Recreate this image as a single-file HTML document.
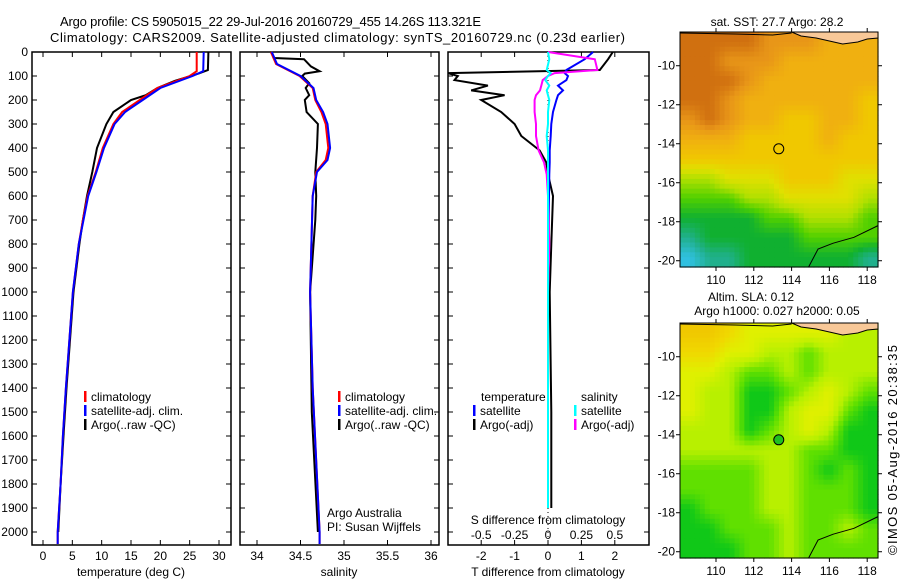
<!DOCTYPE html>
<html><head><meta charset="utf-8"><style>
body{margin:0;background:#fff;}
svg{display:block;font-family:"Liberation Sans",sans-serif;}
</style></head><body>
<svg id="fig" width="900" height="580" xmlns="http://www.w3.org/2000/svg">
<rect width="900" height="580" fill="#fff"/>
<text x="60" y="26" font-size="13" textLength="421">Argo profile: CS 5905015_22 29-Jul-2016 20160729_455 14.26S 113.321E</text>
<text x="50" y="42" font-size="13" textLength="575">Climatology: CARS2009. Satellite-adjusted climatology: synTS_20160729.nc (0.23d earlier)</text>
<g id="p1"></g>
<g id="p2"></g>
<g id="p3"></g>
<g id="m1"></g>
<g id="m2"></g>
<text x="777" y="26" font-size="12" text-anchor="middle">sat. SST: 27.7 Argo: 28.2</text>
<text x="751" y="301" font-size="12" text-anchor="middle">Altim. SLA: 0.12</text>
<text x="777" y="315" font-size="12" text-anchor="middle">Argo h1000: 0.027 h2000: 0.05</text>
<text transform="translate(897,555) rotate(-90)" font-size="13" textLength="210">©IMOS 05-Aug-2016 20:38:35</text>
</svg>
<script>
// ---- profile data ----
const tDepth = [0,80,100,150,200,250,300,400,500,600,700,800,1000,1200,1400,1600,1800,2000,2050];
const tClim  = [26.2,26.2,25,19.5,16.5,13.5,12,10.2,9,7.6,6.8,6.1,5.1,4.5,3.9,3.4,3,2.5,2.5];
const tSat   = [27.4,27.3,25.5,20,17,14,12.2,10.4,9.1,7.7,6.9,6.1,5.1,4.5,3.9,3.4,3,2.5,2.5];
const aDepth = [0,75,90,120,150,180,200,250,300,400,500,600,700,800,1000,1200,1400,1600,1800,2000];
const tArgo  = [28.2,28.1,26.5,22.5,19.5,17.5,15,12,10.8,9.2,8.4,7.5,6.8,6.2,5.2,4.6,4.0,3.5,3.0,2.6];
const sDepth = [0,50,100,150,200,250,300,400,450,500,600,1000,1400,2000,2050];
const sClim  = [34.16,34.22,34.49,34.64,34.67,34.74,34.79,34.82,34.79,34.68,34.64,34.61,34.64,34.72,34.72];
const sSat   = [34.17,34.23,34.50,34.65,34.68,34.76,34.81,34.84,34.81,34.69,34.64,34.61,34.64,34.72,34.72];
const saDepth= [0,25,30,60,80,90,100,130,150,180,200,250,300,400,500,600,700,1000,1500,2000];
const sArgo  = [34.16,34.20,34.54,34.62,34.72,34.55,34.52,34.60,34.56,34.60,34.55,34.57,34.70,34.69,34.67,34.68,34.67,34.61,34.63,34.70];
const dDepth = [0,30,75,88,100,117,140,160,180,200,250,300,350,410,460,510,600,800,1000,1500,1900];
const dTArgo = [1.94,1.8,1.55,-3.0,-2.7,-2.8,-1.8,-2.3,-1.3,-2.0,-1.4,-1.0,-0.8,-0.25,-0.05,0,0.15,0.1,0.05,0.1,0.1];
const dTSat  = [1.35,1.1,0.55,0.5,0.6,0.55,0.3,0.45,0.3,0.25,0.15,0.1,0.08,0.05,0.05,0.04,0.03,0.02,0,0,0];
const dSArgo = [0,0.35,0.37,0.05,0.0,-0.04,-0.05,-0.06,-0.09,-0.1,-0.1,-0.09,-0.09,-0.07,-0.03,-0.01,0,0.01,0,0,0];
const dSSat  = [0,0.01,-0.01,0.02,0.0,-0.02,0.01,-0.01,0,0.01,0,0,-0.01,0,0,0,0,0,0,0,0];
const depthTicks = [0,100,200,300,400,500,600,700,800,900,1000,1100,1200,1300,1400,1500,1600,1700,1800,1900,2000];
const tTicks = [0,5,10,15,20,25,30];
const sTicks = [34,34.5,35,35.5,36];
const dTTicks = [-2,-1,0,1,2];
const dSTicks = [-0.5,-0.25,0,0.25,0.5];
// ---- map data (coarse grid, 10 cols x 12 rows, top row north) ----
const sstGrid = [
[9,9,9,9,8,8,8,7,7,7],[9,9,8,8,8,7,7,7,7,7],[9,9,9,8,7,7,7,7,7,7],[9,9,8,7,7,7,7,7,7,6],
[8,9,8,7,7,6,6,7,7,6],[7,7,7,6,6,6,6,7,6,6],[6,6,6,6,6,6,6,6,6,6],[4,4,5,5,5,6,6,6,5,5],
[3,3,3,4,4,5,5,5,5,4],[2,2,2,2,3,3,4,4,4,3],[1,2,2,2,2,2,3,3,3,3],[0,1,1,2,2,2,2,2,2,1]];
const slaGrid = [
[7,7,6,5,5,5,5,5,4,4],[6,6,5,5,4,4,3,4,4,4],[5,5,4,3,3,4,3,4,4,4],[5,4,4,2,2,3,4,5,4,3],
[5,4,4,2,2,4,5,5,3,2],[4,4,4,2,3,4,5,4,2,2],[4,4,4,4,4,4,3,3,2,2],[3,3,3,3,4,4,3,2,3,2],
[3,3,3,3,4,4,3,3,3,2],[2,3,3,3,4,4,3,3,3,2],[2,2,3,3,3,4,3,3,4,3],[2,2,2,3,3,4,3,3,3,3]];
const lonTicks = [110,112,114,116,118];
const latTicks = [-10,-12,-14,-16,-18,-20];
const argoLon = 113.321, argoLat = -14.26;

const NS="http://www.w3.org/2000/svg";
function mk(parent,tag,attrs,txt){const e=document.createElementNS(NS,tag);for(const k in attrs)e.setAttribute(k,attrs[k]);if(txt!==undefined)e.textContent=txt;parent.appendChild(e);return e;}
const Y0=52,Y1=545;
const yD=d=>Y0+d*0.24;
function panel(g,x0,x1){
  const r=mk(g,'rect',{x:x0,y:Y0,width:x1-x0,height:Y1-Y0,fill:'none',stroke:'#000','stroke-width':1.5});
  
  
  depthTicks.forEach(d=>{const y=yD(d);
    mk(g,'line',{x1:x0,x2:x0+5,y1:y,y2:y,stroke:'#000'});
    mk(g,'line',{x1:x1-5,x2:x1,y1:y,y2:y,stroke:'#000'});});
}
function xTicks(g,vals,fx,labY,labels){
  vals.forEach(v=>{const x=fx(v);
    mk(g,'line',{x1:x,x2:x,y1:Y1,y2:Y1-5,stroke:'#000'});
    mk(g,'line',{x1:x,x2:x,y1:Y0,y2:Y0+5,stroke:'#000'});
    if(labels){const t=mk(g,'text',{x:x,y:labY,'font-size':12,'text-anchor':'middle'},String(v));
    
    }});
}
function line(g,xs,ds,fx,color,name,w){
  const pts=xs.map((v,i)=>fx(v).toFixed(1)+','+yD(ds[i]).toFixed(1)).join(' ');
  const p=mk(g,'polyline',{points:pts,fill:'none',stroke:color,'stroke-width':w||2});
  
  
}
function legend(g,x,y,items){
  items.forEach((it,i)=>{const yy=y+i*14;
    mk(g,'rect',{x:x,y:yy-10,width:2.5,height:11,fill:it[1]});
    const t=mk(g,'text',{x:x+7,y:yy,'font-size':12},it[0]);
    
    });
}
// panel 1
const p1=document.getElementById('p1');
const fT=v=>43+v*(219-43)/30;
panel(p1,32,231);
depthTicks.forEach(d=>{const t=mk(p1,'text',{x:28,y:yD(d)+4,'font-size':12,'text-anchor':'end'},String(d));
  
  });
xTicks(p1,tTicks,fT,560,true);
line(p1,tArgo,aDepth,fT,'#000','argo-temperature-line');
line(p1,tClim,tDepth,fT,'#f00','clim-temperature-line');
line(p1,tSat,tDepth,fT,'#00f','sat-temperature-line');
legend(p1,84,401,[['climatology','#f00'],['satellite-adj. clim.','#00f'],['Argo(..raw -QC)','#000']]);
mk(p1,'text',{x:131,y:576,'font-size':12,'text-anchor':'middle'},'temperature (deg C)');
// panel 2
const p2=document.getElementById('p2');
const fS=v=>257+(v-34)*(431-257)/2;
panel(p2,240,439);
xTicks(p2,sTicks,fS,560,true);
line(p2,sArgo,saDepth,fS,'#000','argo-salinity-line');
line(p2,sClim,sDepth,fS,'#f00','clim-salinity-line');
line(p2,sSat,sDepth,fS,'#00f','sat-salinity-line');
legend(p2,338,401,[['climatology','#f00'],['satellite-adj. clim.','#00f'],['Argo(..raw -QC)','#000']]);
mk(p2,'text',{x:327,y:517,'font-size':12},'Argo Australia');
mk(p2,'text',{x:327,y:531,'font-size':12},'PI: Susan Wijffels');
mk(p2,'text',{x:339,y:576,'font-size':12,'text-anchor':'middle'},'salinity');
// panel 3
const p3=document.getElementById('p3');
const fDT=v=>548+v*33.4, fDS=v=>548+v*133.6;
panel(p3,448,649);
xTicks(p3,dTTicks,fDT,560,true);
mk(p3,'line',{x1:548,x2:548,y1:Y0,y2:Y1,stroke:'#000','stroke-dasharray':'1,3'});
line(p3,dTArgo,dDepth,fDT,'#000','argo-temp-diff-line');
line(p3,dTSat,dDepth,fDT,'#00f','sat-temp-diff-line');
line(p3,dSArgo,dDepth,fDS,'#f0f','argo-sal-diff-line');
line(p3,dSSat,dDepth,fDS,'#0ff','sat-sal-diff-line');
dSTicks.forEach(v=>{const t=mk(p3,'text',{x:fDS(v),y:539,'font-size':12,'text-anchor':'middle'},String(v));
  
  });
mk(p3,'text',{x:548,y:524,'font-size':12,'text-anchor':'middle'},'S difference from climatology');
mk(p3,'text',{x:548,y:576,'font-size':12,'text-anchor':'middle'},'T difference from climatology');
mk(p3,'text',{x:481,y:401,'font-size':12},'temperature');
mk(p3,'text',{x:581,y:401,'font-size':12},'salinity');
legend(p3,473,415,[['satellite','#00f'],['Argo(-adj)','#000']]);
legend(p3,574,415,[['satellite','#0ff'],['Argo(-adj)','#f0f']]);
// maps
const sstStops=[[0,[48,192,224]],[1,[32,176,140]],[2,[16,176,48]],[3,[80,208,0]],[4,[176,224,0]],[5,[224,224,0]],[6,[240,200,0]],[7,[240,176,16]],[8,[232,150,24]],[9,[208,112,16]]];
const slaStops=[[2,[16,200,24]],[3,[96,224,0]],[4,[184,240,0]],[5,[224,240,0]],[6,[240,216,0]],[7,[240,200,0]]];
function cmap(stops,v){
  if(v<=stops[0][0])return stops[0][1];
  for(let i=1;i<stops.length;i++){if(v<=stops[i][0]){const a=stops[i-1],b=stops[i],t=(v-a[0])/(b[0]-a[0]);
    return a[1].map((c,k)=>Math.round(c+(b[1][k]-c)*t));}}
  return stops[stops.length-1][1];
}
function drawMap(g,top,grid,stops,dot){
  const X0=680,X1=878,H=235,Y1m=top+H;
  const fx=lon=>716+(lon-110)*18.9;
  const fy=lat=>top+(-8.27-lat)*19.5;
  const nr=grid.length,nc=grid[0].length,sub=4;
  const cw=(X1-X0)/(nc*sub),ch=H/(nr*sub);
  for(let r=0;r<nr*sub;r++)for(let c=0;c<nc*sub;c++){
    const gr=(r+0.5)/sub-0.5,gc=(c+0.5)/sub-0.5;
    const r0=Math.max(0,Math.min(nr-1,Math.floor(gr))),r1=Math.min(nr-1,r0+1);
    const c0=Math.max(0,Math.min(nc-1,Math.floor(gc))),c1=Math.min(nc-1,c0+1);
    const tr=Math.max(0,Math.min(1,gr-r0)),tc=Math.max(0,Math.min(1,gc-c0));
    const v=(grid[r0][c0]*(1-tc)+grid[r0][c1]*tc)*(1-tr)+(grid[r1][c0]*(1-tc)+grid[r1][c1]*tc)*tr;
    const col=cmap(stops,v);
    const cell=mk(g,'rect',{x:(X0+c*cw).toFixed(2),y:(top+r*ch).toFixed(2),width:(cw+0.6).toFixed(2),height:(ch+0.6).toFixed(2),fill:'rgb('+col.join(',')+')'});
    
    
  }
  const land=mk(g,'polygon',{points:`${fx(114.0)},${top} ${fx(114.5)},${top+4} ${fx(115.3)},${top+6} ${fx(116.0)},${top+9} ${fx(116.7)},${top+12} ${fx(117.5)},${top+10} ${fx(118.0)},${top+7} ${X1},${top+6} ${X1},${top}`,fill:'#f8c898',stroke:'#000','stroke-width':1});
  
  
  mk(g,'polyline',{points:`${fx(108.1)},${top+1} ${fx(111)},${top+2} ${fx(113)},${top+3} ${fx(114.0)},${top+1}`,fill:'none',stroke:'#000','stroke-width':1});
  mk(g,'polyline',{points:`${fx(114.9)},${Y1m} ${fx(115.4)},${fy(-19.4)} ${fx(116.2)},${fy(-19.1)} ${fx(117.3)},${fy(-18.8)} ${X1},${fy(-18.2)}`,fill:'none',stroke:'#000','stroke-width':1});
  const fr=mk(g,'rect',{x:X0,y:top,width:X1-X0,height:H,fill:'none',stroke:'#000','stroke-width':1});
  
  
  lonTicks.forEach(l=>{const x=fx(l);mk(g,'line',{x1:x,x2:x,y1:Y1m,y2:Y1m+4,stroke:'#000'});mk(g,'line',{x1:x,x2:x,y1:top,y2:top-4,stroke:'#000'});
    const t=mk(g,'text',{x:x,y:Y1m+17,'font-size':12,'text-anchor':'middle'},String(l));
    
    });
  latTicks.forEach(l=>{const y=fy(l);mk(g,'line',{x1:X0,x2:X0-4,y1:y,y2:y,stroke:'#000'});mk(g,'line',{x1:X1,x2:X1+4,y1:y,y2:y,stroke:'#000'});
    const t=mk(g,'text',{x:X0-5,y:y+4,'font-size':12,'text-anchor':'end'},String(l));
    
    });
  const m=mk(g,'circle',{cx:fx(argoLon),cy:fy(argoLat),r:5,fill:dot,stroke:'#000','stroke-width':1});
  
  
}
drawMap(document.getElementById('m1'),32,sstGrid,sstStops,'none');
drawMap(document.getElementById('m2'),323,slaGrid,slaStops,'#20c020');
</script>
</body></html>
